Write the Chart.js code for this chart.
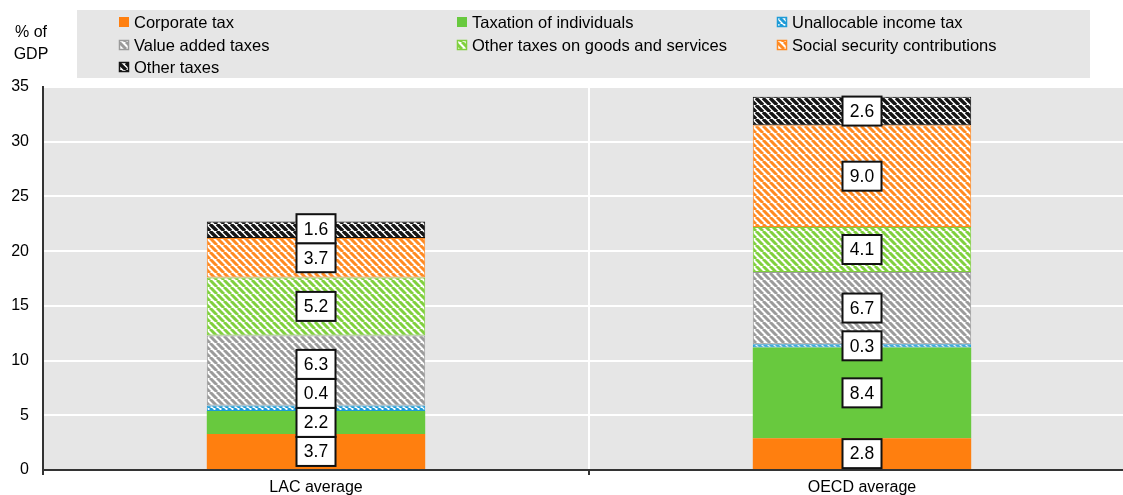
<!DOCTYPE html>
<html>
<head>
<meta charset="utf-8">
<script src="https://cdn.jsdelivr.net/npm/chart.js@4.4.1/dist/chart.umd.min.js"></script>
<style>
  html, body { margin: 0; padding: 0; background: #fff; overflow: hidden; }
  #wrap { width: 1140px; height: 495px; }
</style>
</head>
<body>
<div id="wrap"><canvas id="grafico" width="1140" height="495"></canvas></div>
<script>
// --- Dados ---
const categorias = ['LAC average', 'OECD average'];
const nomesSeries = [
    'Corporate tax', 'Taxation of individuals', 'Unallocable income tax',
    'Value added taxes', 'Other taxes on goods and services', 'Social security contributions',
    'Other taxes'
];
const impostoCorporativo = [3.3, 2.9];
const impostoIndividuos = [2.1, 8.3];
const impostoNaoAlocavel = [0.5, 0.3];
const impostoValorAgregado = [6.4, 6.6];
const outrosBensServicos = [5.3, 4.1];
const seguridadeSocial = [3.6, 9.3];
const outrosImpostos = [1.5, 2.6];

// rótulos impressos nas caixas (como aparecem na figura)
const rotulosCorporativo = ['3.7', '2.8'];
const rotulosIndividuos = ['2.2', '8.4'];
const rotulosNaoAlocavel = ['0.4', '0.3'];
const rotulosValorAgregado = ['6.3', '6.7'];
const rotulosOutrosBens = ['5.2', '4.1'];
const rotulosSeguridade = ['3.7', '9.0'];
const rotulosOutros = ['1.6', '2.6'];

const ticksY = [0, 5, 10, 15, 20, 25, 30, 35];

const FONTE = '"Liberation Sans", Arial, sans-serif';

// --- Padrões hachurados ---
function hachura(cor, tam, esp) {
    const c = document.createElement('canvas');
    c.width = tam; c.height = tam;
    const ctx = c.getContext('2d');
    ctx.fillStyle = '#fff';
    ctx.fillRect(0, 0, tam, tam);
    ctx.strokeStyle = cor;
    ctx.lineWidth = esp;
    ctx.beginPath();
    for (let k = -1; k <= 1; k++) {
        ctx.moveTo(k * tam, 0);
        ctx.lineTo(k * tam + tam, tam);
    }
    ctx.stroke();
    return ctx.createPattern(c, 'repeat');
}

const estilos = [
    { fill: '#ff7f0f', borda: '#ff7f0f', hach: false },
    { fill: '#68c93e', borda: '#68c93e', hach: false },
    { fill: hachura('#1e9bd7', 6, 3), borda: '#1e9bd7', hach: true },
    { fill: hachura('#9b9b9b', 7, 3), borda: '#9b9b9b', hach: true },
    { fill: hachura('#80d03e', 7, 3), borda: '#80d03e', hach: true },
    { fill: hachura('#ff8a22', 7, 3), borda: '#ff8a22', hach: true },
    { fill: hachura('#151515', 7, 3.4), borda: '#151515', hach: true }
];

const valores = [impostoCorporativo, impostoIndividuos, impostoNaoAlocavel, impostoValorAgregado,
    outrosBensServicos, seguridadeSocial, outrosImpostos];
const rotulos = [rotulosCorporativo, rotulosIndividuos, rotulosNaoAlocavel, rotulosValorAgregado,
    rotulosOutrosBens, rotulosSeguridade, rotulosOutros];

const datasets = valores.map((v, i) => ({
    label: nomesSeries[i],
    data: v,
    backgroundColor: estilos[i].fill,
    borderColor: estilos[i].borda,
    borderWidth: estilos[i].hach ? 1 : 0,
    borderSkipped: false,
    categoryPercentage: 1.0,
    barPercentage: 0.4,
    stack: 'a'
}));

// --- Plugin: fundo da área do gráfico ---
const fundoPlot = {
    id: 'fundoPlot',
    beforeDraw(chart) {
        const { ctx, chartArea: a } = chart;
        ctx.save();
        ctx.fillStyle = '#e6e6e6';
        ctx.fillRect(a.left, a.top, a.right - a.left, a.bottom - a.top);
        ctx.restore();
    }
};

// --- Plugin: legenda com fundo cinza + título do eixo ---
const legendaCustom = {
    id: 'legendaCustom',
    afterDraw(chart) {
        const ctx = chart.ctx;
        ctx.save();
        ctx.fillStyle = '#e6e6e6';
        ctx.fillRect(77, 10, 1013, 68);

        const colX = [119, 457, 777];
        const linY = [22, 45, 67];
        ctx.font = '16.5px ' + FONTE;
        ctx.textBaseline = 'middle';
        ctx.textAlign = 'left';
        nomesSeries.forEach((nome, i) => {
            const x = colX[i % 3];
            const y = linY[Math.floor(i / 3)];
            ctx.fillStyle = estilos[i].fill;
            ctx.fillRect(x, y - 5, 10, 10);
            if (estilos[i].hach) {
                ctx.strokeStyle = estilos[i].borda;
                ctx.lineWidth = 1.5;
                ctx.strokeRect(x + 0.5, y - 4.5, 9, 9);
            }
            ctx.fillStyle = '#000';
            ctx.fillText(nome, x + 15, y + 1);
        });

        // título do eixo Y
        ctx.font = '16px ' + FONTE;
        ctx.textAlign = 'center';
        ctx.fillText('% of', 31, 33);
        ctx.fillText('GDP', 31, 55);
        ctx.restore();
    }
};

// --- Plugin: caixas de rótulos ---
const caixasRotulos = {
    id: 'caixasRotulos',
    afterDatasetsDraw(chart) {
        const ctx = chart.ctx;
        const W = 39, H = 29;
        ctx.save();
        ctx.font = '17.5px ' + FONTE;
        ctx.textAlign = 'center';
        ctx.textBaseline = 'middle';
        categorias.forEach((cat, j) => {
            const centros = [];
            let x = 0;
            chart.data.datasets.forEach((ds, i) => {
                const el = chart.getDatasetMeta(i).data[j];
                x = el.x;
                centros.push((el.y + el.base) / 2);
            });
            // empurra as caixas para cima para não sobrepor
            for (let i = 1; i < centros.length; i++) {
                if (centros[i] > centros[i - 1] - H) centros[i] = centros[i - 1] - H;
            }
            centros.forEach((cy, i) => {
                ctx.fillStyle = '#fff';
                ctx.fillRect(x - W / 2, cy - H / 2, W, H);
                ctx.strokeStyle = '#111';
                ctx.lineWidth = 2;
                ctx.strokeRect(x - W / 2, cy - H / 2, W, H);
                ctx.fillStyle = '#000';
                ctx.fillText(rotulos[i][j], x, cy + 1);
            });
        });
        ctx.restore();
    }
};

new Chart(document.getElementById('grafico').getContext('2d'), {
    type: 'bar',
    data: { labels: categorias, datasets: datasets },
    options: {
        responsive: false,
        animation: false,
        layout: { padding: { top: 87, right: 5, left: 0, bottom: 0 } },
        plugins: {
            legend: { display: false },
            tooltip: { enabled: false }
        },
        scales: {
            x: {
                stacked: true,
                grid: { color: '#ffffff', lineWidth: 2, offset: true, tickColor: '#333', tickLength: 5 },
                border: { color: '#333', width: 2 },
                ticks: { color: '#000', font: { family: FONTE, size: 16 }, padding: 3 },
                afterFit(scale) { scale.height = 25; }
            },
            y: {
                stacked: true,
                min: 0,
                max: 35,
                afterBuildTicks(scale) { scale.ticks = ticksY.map(v => ({ value: v })); },
                grid: { color: '#ffffff', lineWidth: 2, tickLength: 0 },
                border: { color: '#333', width: 2 },
                ticks: { color: '#000', font: { family: FONTE, size: 16 }, padding: 14 },
                afterFit(scale) { scale.width = 43; }
            }
        }
    },
    plugins: [fundoPlot, legendaCustom, caixasRotulos]
});
</script>
</body>
</html>
